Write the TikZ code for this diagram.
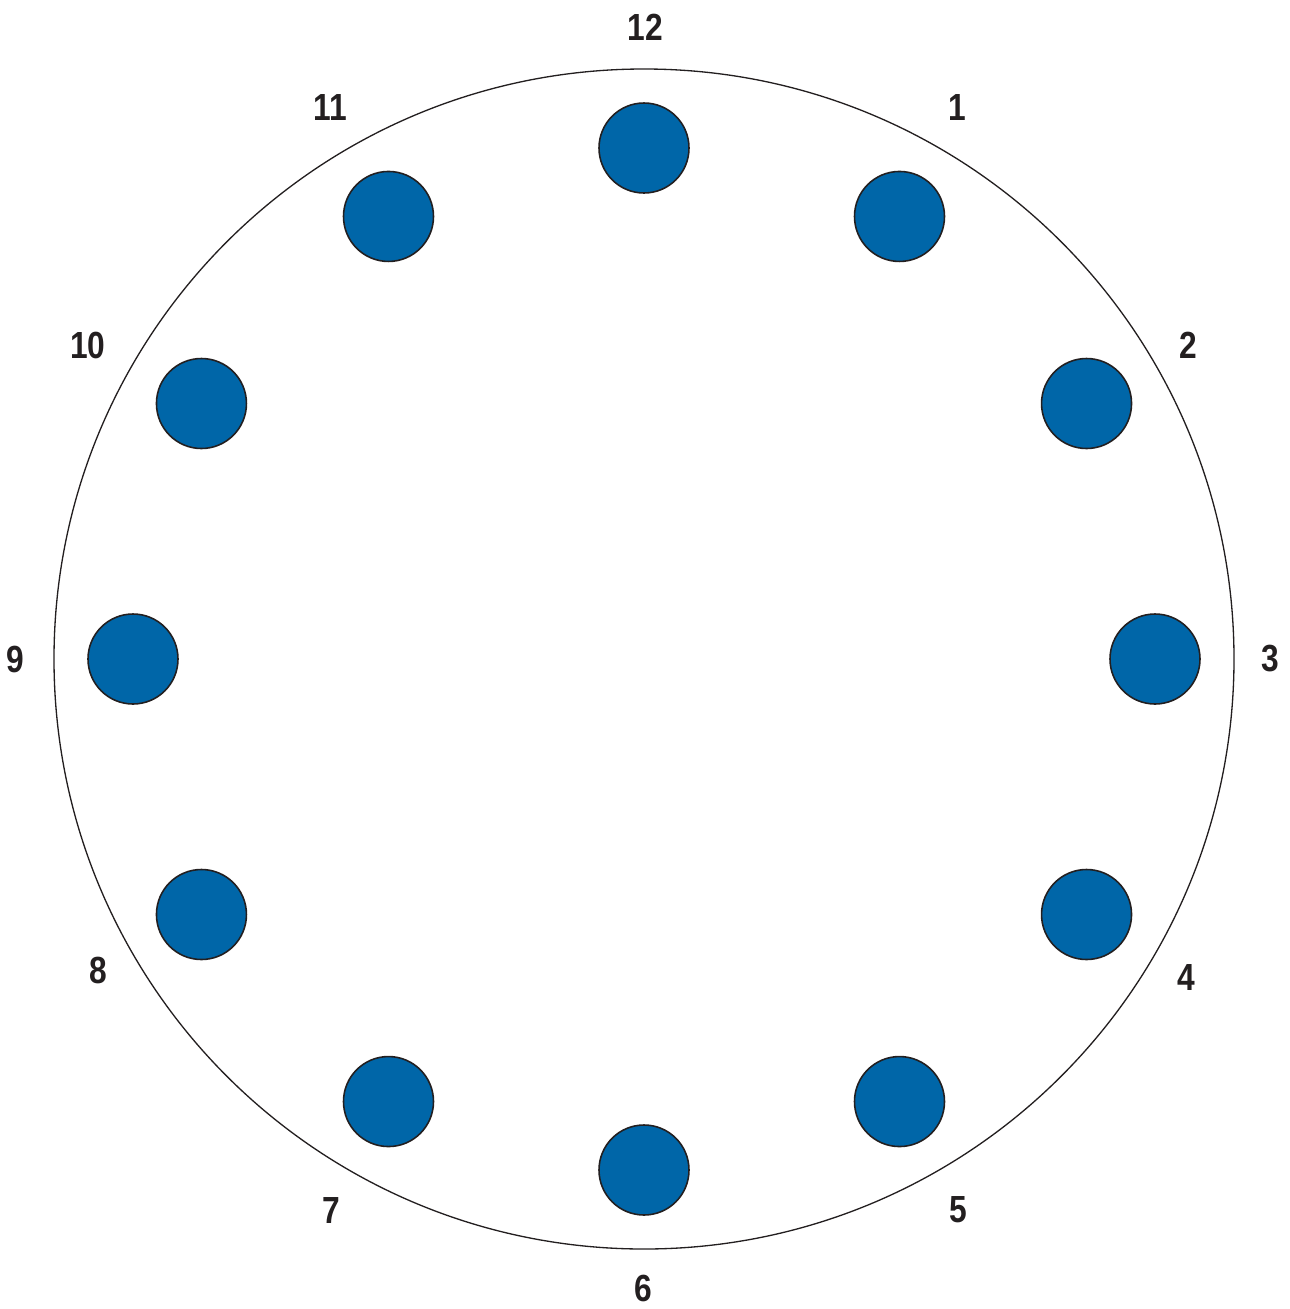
\documentclass[tikz,border=0pt]{standalone}
\usepackage{fontspec}
\setmainfont{Liberation Sans}[FakeStretch=0.84]
\usetikzlibrary{calc}
\definecolor{dotblue}{HTML}{0066A8}
\definecolor{ink}{HTML}{231F20}
\begin{document}
\begin{tikzpicture}[x=0.02cm,y=-0.02cm,
  face/.style={circle,draw=ink,line width=0.75pt,minimum size=1180*0.02cm,inner sep=0pt},
  dot/.style={circle,draw=ink,fill=dotblue,line width=0.9pt,minimum size=90*0.02cm,inner sep=0pt},
  num/.style={font=\fontsize{21.5}{24}\selectfont\bfseries,text=ink,inner sep=0pt}]
\useasboundingbox (0,0) rectangle (1289,1309);
\node[face] (face) at (644,659) {};
\foreach \h in {1,...,12}{
  \node[dot] (d\h) at ($(644,659)+({sin(30*\h)*511},{-cos(30*\h)*511})$) {};
}
\node[num] (n12) at (645,27) {12};
\node[num] (n1) at (957,108) {1};
\node[num] (n2) at (1188,345) {2};
\node[num] (n3) at (1270,659) {3};
\node[num] (n4) at (1186,977) {4};
\node[num] (n5) at (958,1210) {5};
\node[num] (n6) at (643,1288) {6};
\node[num] (n7) at (331,1210) {7};
\node[num] (n8) at (98,970) {8};
\node[num] (n9) at (15,659) {9};
\node[num] (n10) at (88,345) {10};
\node[num] (n11) at (330,108) {11};
\end{tikzpicture}
\end{document}
